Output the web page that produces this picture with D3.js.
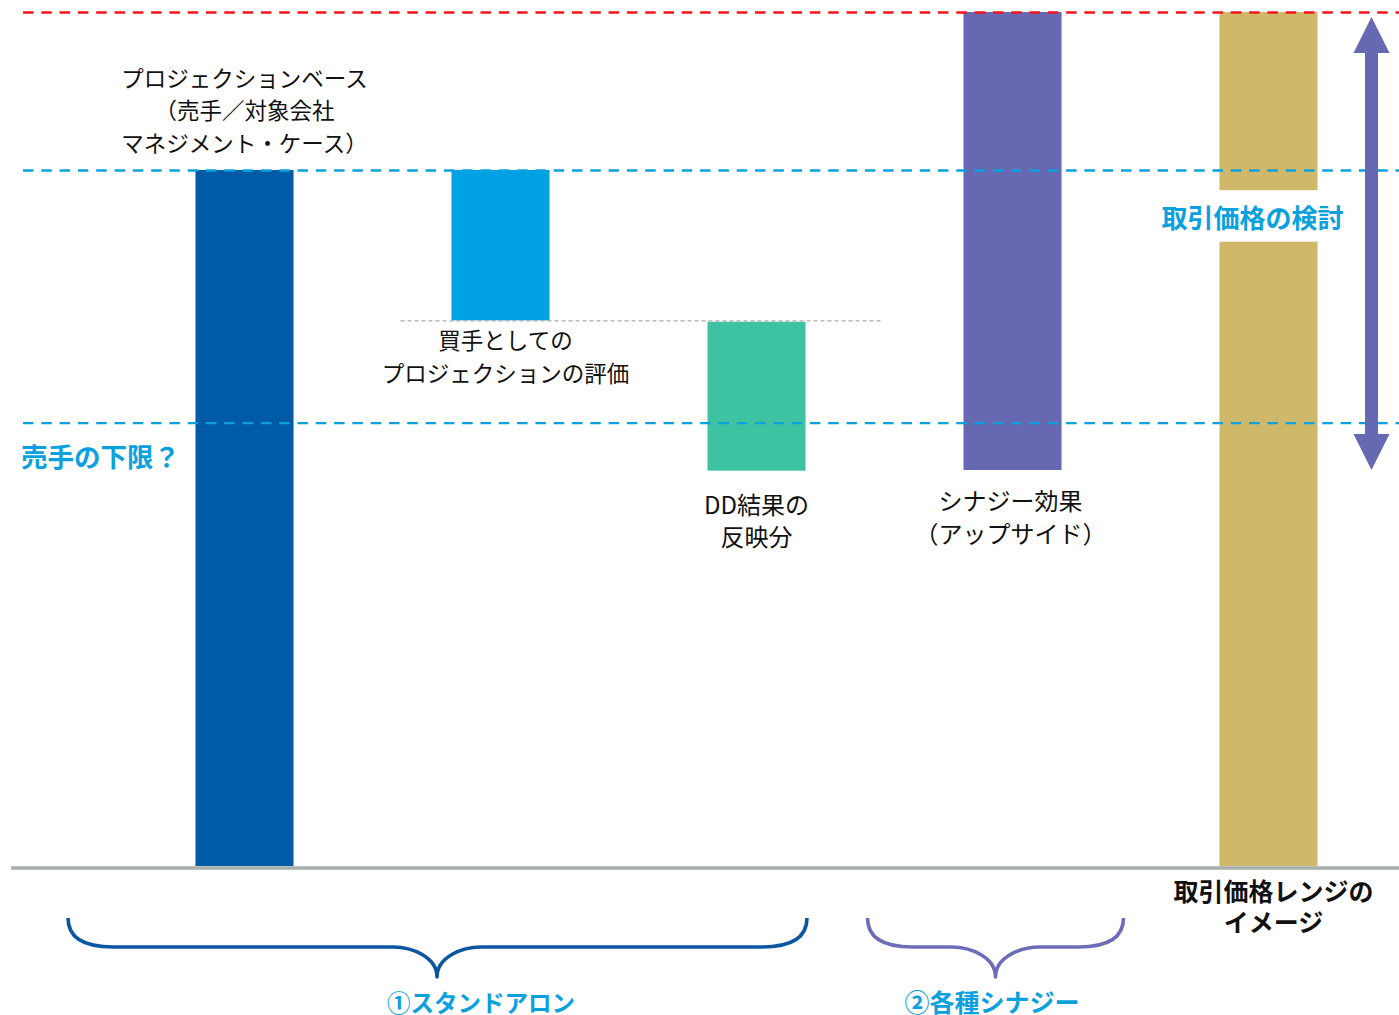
<!DOCTYPE html>
<html lang="ja">
<head>
<meta charset="utf-8">
<script src="https://cdn.jsdelivr.net/npm/d3@7/dist/d3.min.js"></script>
<style>
  html, body { margin: 0; padding: 0; background: #fff; }
  svg { display: block; font-family: "Noto Sans CJK JP", "Noto Sans", sans-serif; }
</style>
</head>
<body>
<svg id="chart" width="1399" height="1015"></svg>
<script>
// Valuation bridge: stand-alone projection → buyer view → DD → synergy → price range
const categories = ["base", "buyer", "dd", "synergy", "range"];
const barLow  = [0,   78.4, 56.8, 56.9, 0];
const barHigh = [100, 100,  78.2, 122.7, 122.7];
const barColors = ["#005BA6", "#00A1E2", "#3DC3A2", "#6768B2", "#CFB86A"];
// break in the price-range bar where its caption sits
const rangeGap = [89.7, 97.1];

// horizontal guides
const guideValues = [122.7, 100, 63.7];
const guideColors = ["#F5141C", "#0BA0DE", "#0BA0DE"];
const buyerLevel = 78.4;

// captions
const barLabels = [
  ["プロジェクションベース", "（売手／対象会社", "マネジメント・ケース）"],
  ["買手としての", "プロジェクションの評価"],
  ["DD結果の", "反映分"],
  ["シナジー効果", "（アップサイド）"],
  ["取引価格レンジの", "イメージ"]
];
const sellerFloorLabel = "売手の下限？";
const priceStudyLabel = "取引価格の検討";
const groupLabels = ["①スタンドアロン", "②各種シナジー"];
const groupColors = ["#0C56A1", "#6D6CB8"];

const svg = d3.select("#chart");
const W = 1399;

const x = d3.scaleBand()
  .domain(categories)
  .range([116.5, 1396.5])
  .paddingInner(0.617)
  .paddingOuter(0.3085);
const y = d3.scaleLinear().domain([0, 100]).range([866, 170]);
const bw = x.bandwidth();
const cx = k => x(k) + bw / 2;

const bars = categories.map((k, i) => ({ k, lo: barLow[i], hi: barHigh[i], c: barColors[i] }));

// bars (the range bar is split around its caption)
const gBars = svg.append("g");
bars.forEach(b => {
  const segs = b.k === "range"
    ? [[b.lo, rangeGap[0]], [rangeGap[1], b.hi]]
    : [[b.lo, b.hi]];
  segs.forEach(([lo, hi]) => {
    gBars.append("rect")
      .attr("x", x(b.k)).attr("width", bw)
      .attr("y", y(hi)).attr("height", y(lo) - y(hi))
      .attr("fill", b.c);
  });
});

// baseline
svg.append("line")
  .attr("x1", 11).attr("x2", W)
  .attr("y1", y(0) + 2).attr("y2", y(0) + 2)
  .attr("stroke", "#A8AEAD").attr("stroke-width", 3.5);

// dotted connector at the buyer's valuation level
svg.append("line")
  .attr("x1", x("buyer") - bw * 0.52).attr("x2", x("dd") + bw * 1.78)
  .attr("y1", y(buyerLevel) + 0.5).attr("y2", y(buyerLevel) + 0.5)
  .attr("stroke", "#ABABAB").attr("stroke-width", 1.1)
  .attr("stroke-dasharray", "4,3");

// dashed guides drawn over the bars
guideValues.forEach((v, i) => {
  svg.append("line")
    .attr("x1", 23).attr("x2", W)
    .attr("y1", y(v) + 0.5).attr("y2", y(v) + 0.5)
    .attr("stroke", guideColors[i]).attr("stroke-width", 2.4)
    .attr("stroke-dasharray", "10.5,7.8");
});

// double-headed arrow for the price negotiation range
const ax = 1371.5, aTop = y(guideValues[0]) + 5, aBot = y(barLow[3]);
const headW = 18, headH = 36, shaftW = 6.5;
svg.append("path")
  .attr("d", `M${ax},${aTop} L${ax + headW},${aTop + headH} L${ax + shaftW},${aTop + headH}
              L${ax + shaftW},${aBot - headH} L${ax + headW},${aBot - headH} L${ax},${aBot}
              L${ax - headW},${aBot - headH} L${ax - shaftW},${aBot - headH}
              L${ax - shaftW},${aTop + headH} L${ax - headW},${aTop + headH} Z`)
  .attr("fill", "#6768B2");

// captions, one <text> per line
function lines(xc, baseline, arr, size, lh, opts = {}) {
  arr.forEach((s, i) => {
    svg.append("text")
      .attr("x", xc).attr("y", baseline + i * lh)
      .attr("text-anchor", opts.anchor || "middle")
      .attr("font-size", size)
      .attr("font-weight", opts.weight || 400)
      .attr("fill", opts.fill || "#111")
      .text(s);
  });
}
lines(cx("base"), 86.5, barLabels[0], 22.5, 32.5);
lines(cx("buyer") + 5, 348.5, barLabels[1], 22.5, 33);
lines(cx("dd"), 514, barLabels[2], 24, 31.5);
lines(cx("synergy") - 2, 510, barLabels[3], 24, 32.5);
lines(cx("range") + 5, 901, barLabels[4], 25, 30.5, { weight: 700 });

lines(21, 467, [sellerFloorLabel], 26.5, 0, { anchor: "start", weight: 700, fill: "#0BA0DE" });
// caption on white behind the gap in the range bar
lines(1252.5, 227.5, [priceStudyLabel], 26, 0, { weight: 700, fill: "#0BA0DE" });

// curly braces grouping the steps
function bracePath(x0, x1, xm, top, mid, tip) {
  const r = 45, n = 44;
  return `M${x0},${top} C${x0},${top + 22} ${x0 + 20},${mid} ${x0 + r},${mid}
          L${xm - n},${mid} C${xm - 25},${mid} ${xm},${mid + 10} ${xm},${tip}
          C${xm},${mid + 10} ${xm + 25},${mid} ${xm + n},${mid}
          L${x1 - r},${mid} C${x1 - 20},${mid} ${x1},${top + 22} ${x1},${top}`;
}
const braceDefs = [
  { x0: 68, x1: 807, xm: 437 },
  { x0: 867.5, x1: 1123.5, xm: 995.5 }
];
braceDefs.forEach((b, i) => {
  svg.append("path")
    .attr("d", bracePath(b.x0, b.x1, b.xm, 918, 947, 977))
    .attr("fill", "none")
    .attr("stroke", groupColors[i]).attr("stroke-width", 3.6)
    .attr("stroke-linejoin", "round");
});
lines(481, 1011.5, [groupLabels[0]], 23.5, 0, { weight: 700, fill: "#0BA0DE" });
lines(992, 1011.5, [groupLabels[1]], 25, 0, { weight: 700, fill: "#0BA0DE" });
</script>
</body>
</html>
